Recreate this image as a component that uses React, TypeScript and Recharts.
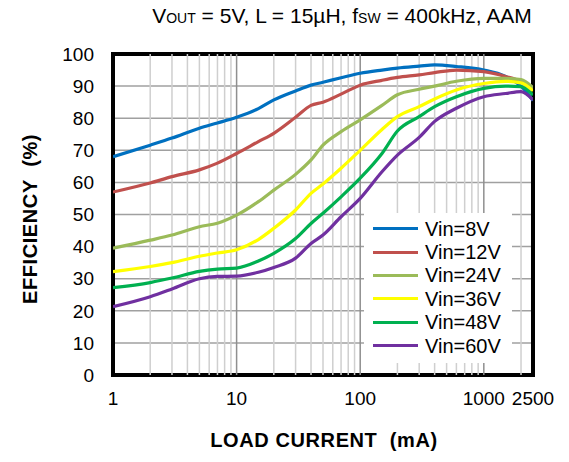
import {
  LineChart,
  Line,
  XAxis,
  YAxis,
  CartesianGrid,
  ReferenceLine,
  ReferenceArea,
  Legend,
  Label,
} from "recharts";

// load current (mA) sample points shared by all curves
const currents = [1, 2, 3, 5, 7, 10, 15, 20, 30, 40, 50, 70, 100, 150, 200, 300, 400, 600, 1000, 1500, 2000, 2500];

// efficiency (%) per input voltage
const vin8 = [68, 71.6, 73.8, 76.9, 78.5, 80.3, 83, 85.7, 88.5, 90.3, 91.2, 92.6, 94, 95, 95.6, 96.2, 96.6, 96.1, 95, 93, 90, 85.5];
const vin12 = [57, 59.8, 61.8, 63.9, 66, 69, 72.7, 75.3, 80.3, 84, 85, 87.5, 90.3, 91.8, 92.7, 93.5, 94.2, 95, 94.5, 93, 91.4, 89];
const vin24 = [39.5, 42, 43.6, 46.2, 47.3, 49.8, 54, 57.6, 62.5, 67, 71.6, 75.8, 79.5, 84, 87.3, 89, 90, 91.5, 92.4, 92.4, 92, 89.5];
const vin36 = [32.2, 33.8, 35, 37, 38, 39, 42.2, 45.7, 51.4, 56.6, 59.5, 64.4, 70, 76.5, 80.5, 83.6, 86, 88.8, 90.8, 91.5, 91, 88.5];
const vin48 = [27.2, 28.8, 30.2, 32.3, 33, 33.3, 35.5, 37.9, 42.5, 47.2, 50.4, 55.5, 61.3, 69, 76, 80.5, 83.6, 86.7, 89.3, 90, 89.8, 87.2];
const vin60 = [21.3, 24.4, 26.8, 30, 30.7, 30.8, 32, 33.5, 36.4, 41, 43.6, 49.3, 55, 63.3, 68.5, 74, 79, 83.1, 86.7, 87.7, 88.3, 85.7];

const seriesNames = ["Vin=8V", "Vin=12V", "Vin=24V", "Vin=36V", "Vin=48V", "Vin=60V"];
const seriesColors = ["#0070C0", "#C0504D", "#9BBB59", "#FFFF00", "#00B050", "#7030A0"];
const seriesValues = [vin8, vin12, vin24, vin36, vin48, vin60];

const xTicks = [1, 10, 100, 1000, 2500];
const yTicks = [0, 10, 20, 30, 40, 50, 60, 70, 80, 90, 100];
const majorX = [10, 100, 1000];
const minorX = [2, 3, 4, 5, 6, 7, 8, 9, 20, 30, 40, 50, 60, 70, 80, 90, 200, 300, 400, 500, 600, 700, 800, 900, 2000];

const data = currents.map((c, i) => {
  const row: Record<string, number> = { current: c };
  seriesNames.forEach((n, k) => {
    row[n] = seriesValues[k][i];
  });
  return row;
});

const FONT = '"Liberation Sans", Arial, sans-serif';

// legend drawn in the series order (recharts would sort it by name)
function LegendBox() {
  return (
    <div
      style={{
        background: "#fff",
        width: 148,
        height: 150,
        paddingTop: 4,
        boxSizing: "border-box",
        fontFamily: FONT,
      }}
    >
      {seriesNames.map((n, k) => (
        <div key={n} style={{ display: "flex", alignItems: "center", height: 23.4 }}>
          <div style={{ marginLeft: 9, width: 45, height: 3, background: seriesColors[k] }} />
          <span style={{ marginLeft: 7, fontSize: 20, color: "#000", lineHeight: "20px" }}>{n}</span>
        </div>
      ))}
    </div>
  );
}

export default function App() {
  return (
    <div style={{ position: "absolute", left: 0, top: 0, width: 569, height: 462, background: "#fff" }}>
      <div
        style={{
          position: "absolute",
          top: 4,
          left: 0,
          width: 569,
          paddingLeft: 115,
          boxSizing: "border-box",
          textAlign: "center",
          fontFamily: FONT,
          fontSize: 21,
          color: "#000",
          zIndex: 2,
        }}
      >
        V<span style={{ fontSize: 14 }}>OUT</span> = 5V, L = 15µH, f<span style={{ fontSize: 14 }}>SW</span> = 400kHz, AAM
      </div>
      <LineChart
        width={569}
        height={462}
        data={data}
        margin={{ top: 54, right: 36, bottom: 57, left: 0 }}
        style={{ fontFamily: FONT }}
      >
        <CartesianGrid vertical={false} stroke="#a0a0a0" strokeWidth={1.5} />
        {minorX.map((v) => (
          <ReferenceLine key={"m" + v} x={v} stroke="#cfcfcf" strokeWidth={1.5} />
        ))}
        {majorX.map((v) => (
          <ReferenceLine key={"M" + v} x={v} stroke="#8f8f8f" strokeWidth={1.5} />
        ))}
        <XAxis
          dataKey="current"
          type="number"
          scale="log"
          domain={[1, 2500]}
          ticks={xTicks}
          allowDataOverflow
          axisLine={false}
          tickLine={false}
          tickSize={0}
          tickMargin={17}
          height={30}
          tick={{ fill: "#000", fontSize: 19 }}
          interval={0}
        >
          <Label
            content={() => (
              <text
                x={324}
                y={447}
                textAnchor="middle"
                fontSize={20}
                fontWeight="bold"
                letterSpacing={0.6}
                fill="#000"
                fontFamily={FONT}
              >
                LOAD CURRENT{"\u00a0\u00a0"}(mA)
              </text>
            )}
          />
        </XAxis>
        <YAxis
          type="number"
          domain={[0, 100]}
          ticks={yTicks}
          axisLine={false}
          tickLine={false}
          tickSize={0}
          tickMargin={19}
          width={113}
          tick={{ fill: "#000", fontSize: 19 }}
          interval={0}
        >
          <Label
            content={() => (
              <text
                x={37}
                y={219}
                transform="rotate(-90 37 219)"
                textAnchor="middle"
                fontSize={20}
                fontWeight="bold"
                letterSpacing={0.6}
                fill="#000"
                fontFamily={FONT}
              >
                EFFICIENCY{"\u00a0\u00a0"}(%)
              </text>
            )}
          />
        </YAxis>
        {seriesNames.map((n, k) => (
          <Line
            key={n}
            dataKey={n}
            name={n}
            type="monotone"
            stroke={seriesColors[k]}
            strokeWidth={3.2}
            dot={false}
            isAnimationActive={false}
          />
        ))}
        <ReferenceArea x1={1} x2={2500} y1={0} y2={100} fill="none" stroke="#000" strokeWidth={4} ifOverflow="visible" />
        <Legend
          content={LegendBox}
          layout="vertical"
          align="center"
          verticalAlign="middle"
          wrapperStyle={{ left: 364, top: 213, width: 148, height: 150 }}
        />
      </LineChart>
    </div>
  );
}
